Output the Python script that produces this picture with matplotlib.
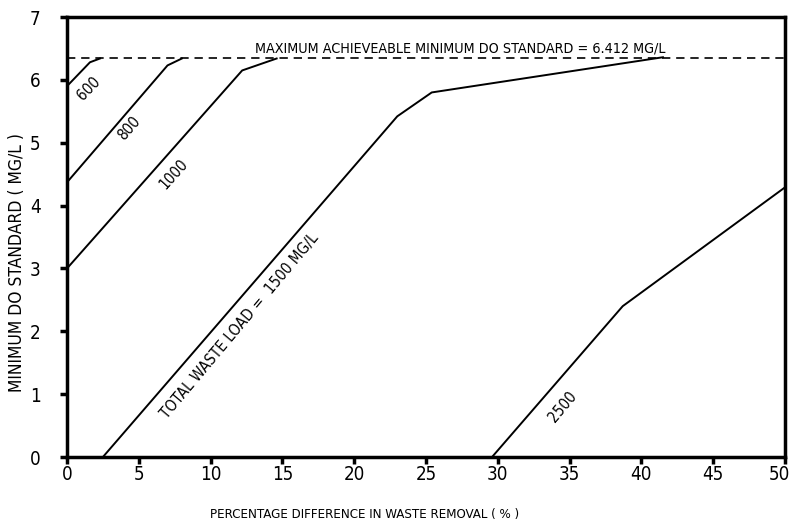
import matplotlib
matplotlib.use("Agg")
import matplotlib.pyplot as plt
import matplotlib.transforms as mtransforms

# 1) Data ------------------------------------------------------------------
x600 = [0.0, 1.6, 2.3]
y600 = [5.90, 6.28, 6.34]

x800 = [0.0, 7.0, 8.0]
y800 = [4.37, 6.23, 6.34]

x1000 = [0.0, 12.2, 14.6]
y1000 = [3.00, 6.15, 6.34]

x1500 = [2.5, 23.0, 25.4, 41.5]
y1500 = [0.00, 5.42, 5.80, 6.36]

x2500 = [29.6, 38.7, 50.0]
y2500 = [0.00, 2.40, 4.29]

max_do = 6.34          # where the dashed line is drawn
xticks = [0, 5, 10, 15, 20, 25, 30, 35, 40, 45, 50]
yticks = [0, 1, 2, 3, 4, 5, 6, 7]

# 2) Plot --------------------------------------------------------------------
plt.rcParams["font.family"] = ["DejaVu Sans"]
plt.rcParams["font.stretch"] = "condensed"

fig = plt.figure(figsize=(7.91, 5.25), dpi=100)
ax = fig.add_axes([0.0847, 0.1295, 0.9077, 0.8381])

for xs, ys in [(x600, y600), (x800, y800), (x1000, y1000),
               (x1500, y1500), (x2500, y2500)]:
    ax.plot(xs, ys, color="black", lw=1.4)

ax.axhline(max_do, color="black", lw=1.2, ls=(0, (5, 3.5)))

ax.set_xlim(0, 50)
ax.set_ylim(0, 7)
ax.set_xticks(xticks)
ax.set_yticks(yticks)
ax.tick_params(direction="out", length=5, width=2.5, colors="black",
               labelsize=13.5)
ax.tick_params(axis="y", pad=14)
ax.tick_params(axis="x", pad=1)
for s in ax.spines.values():
    s.set_linewidth(2.5)

# nudge the last x tick label so it stays inside the figure
last = ax.get_xticklabels()[-1]
last.set_transform(last.get_transform() +
                   mtransforms.ScaledTranslation(-6 / 100, 0, fig.dpi_scale_trans))

ax.set_xlabel("PERCENTAGE DIFFERENCE IN WASTE REMOVAL ( % )", fontsize=9.5)
ax.xaxis.set_label_coords(0.414, -0.115)
ax.set_ylabel("MINIMUM DO STANDARD ( MG/L )", fontsize=12.5)
ax.yaxis.set_label_coords(-0.057, 0.443)

# curve labels
ax.text(27.4, 6.39, "MAXIMUM ACHIEVEABLE MINIMUM DO STANDARD = 6.412 MG/L",
        ha="center", va="bottom", fontsize=10.3)
ax.text(1.55, 5.87, "600", rotation=46, ha="center", va="center",
        fontsize=11)
ax.text(4.3, 5.23, "800", rotation=49, ha="center", va="center",
        fontsize=11)
ax.text(7.4, 4.5, "1000", rotation=48, ha="center", va="center",
        fontsize=11)
ax.text(12.0, 2.08, "TOTAL WASTE LOAD =  1500 MG/L", rotation=50,
        ha="center", va="center", fontsize=11)
ax.text(34.5, 0.8, "2500", rotation=50, ha="center", va="center",
        fontsize=11)

plt.savefig("out.png", dpi=100)
